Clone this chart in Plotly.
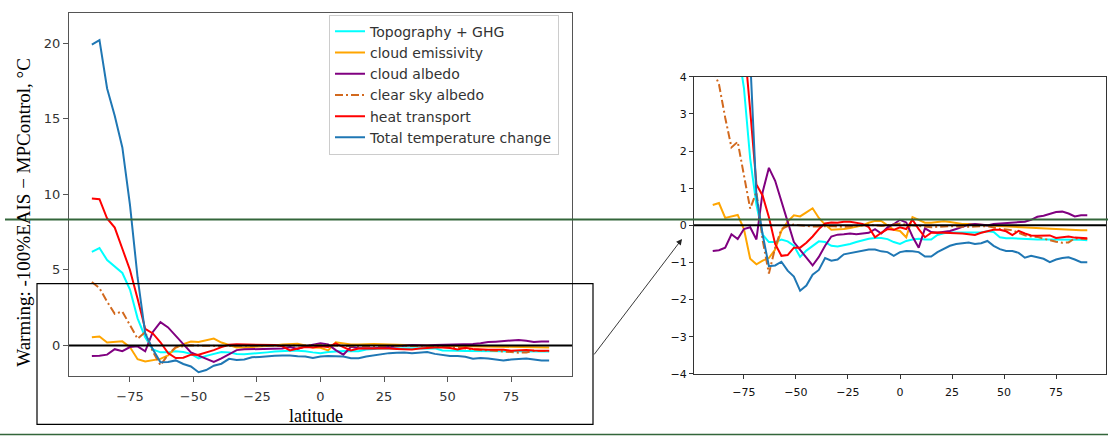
import plotly.graph_objects as go

# ---------------- data ----------------
lat = [-90, -87, -84, -81, -78, -75, -72, -69, -66, -63, -60, -57, -54, -51, -48, -45, -42, -39, -36, -33,
       -30, -27, -24, -21, -18, -15, -12, -9, -6, -3, 0, 3, 6, 9, 12, 15, 18, 21, 24, 27,
       30, 33, 36, 39, 42, 45, 48, 51, 54, 57, 60, 63, 66, 69, 72, 75, 78, 81, 84, 87, 90]

topo_ghg = [6.2, 6.45, 5.65, 5.2, 4.8, 3.7, 1.8, 0.55, -0.25, -0.45, -0.45, -0.38, -0.43, -0.55, -0.85, -0.68, -0.55, -0.43, -0.45, -0.55,
            -0.57, -0.54, -0.5, -0.45, -0.4, -0.36, -0.34, -0.34, -0.37, -0.45, -0.5, -0.42, -0.38, -0.36, -0.38, -0.38, -0.26, -0.21, -0.19, -0.19,
            -0.19, -0.18, -0.19, -0.19, -0.16, -0.18, -0.32, -0.35, -0.35, -0.36, -0.37, -0.38, -0.38, -0.38, -0.38, -0.37, -0.37, -0.37, -0.38, -0.39, -0.4]

cloud_emis = [0.55, 0.6, 0.2, 0.25, 0.28, -0.1, -0.9, -1.05, -0.95, -0.88, -0.65, -0.15, 0.1, 0.27, 0.24, 0.35, 0.46, 0.2, 0.02, -0.12,
              -0.12, -0.1, -0.07, -0.04, 0.0, 0.07, 0.12, 0.12, 0.0, -0.12, -0.15, -0.32, 0.22, 0.15, 0.07, 0.07, 0.1, 0.11, 0.09, 0.06,
              0.04, 0.04, 0.02, 0.01, 0.0, -0.01, -0.02, -0.03, -0.04, -0.05, -0.06, -0.07, -0.08, -0.08, -0.09, -0.09, -0.1, -0.11, -0.12, -0.13, -0.13]

cloud_alb = [-0.69, -0.67, -0.6, -0.24, -0.37, -0.1, -0.05, -0.38, 0.9, 1.55, 1.2, 0.62, 0.1, -0.45, -0.65, -0.85, -1.08, -0.85, -0.55, -0.3,
             -0.25, -0.24, -0.22, -0.24, -0.22, -0.2, -0.1, -0.22, -0.05, 0.03, 0.15, 0.08, -0.3, -0.6, -0.08, -0.18, -0.2, -0.18, -0.15, -0.1,
             -0.05, 0.02, 0.04, 0.02, 0.0, 0.04, 0.05, 0.05, 0.06, 0.08, 0.1, 0.15, 0.23, 0.26, 0.3, 0.36, 0.37, 0.32, 0.24, 0.27, 0.27]

clear_alb = [4.2, 3.8, 2.9, 2.1, 2.25, 1.3, 0.45, 0.9, -0.4, -1.3, -0.6, -0.1, -0.02, 0.02, 0.0, -0.02, -0.03, -0.03, -0.02, -0.02,
             -0.03, -0.04, -0.03, -0.02, 0.0, 0.02, 0.0, -0.02, 0.0, 0.03, 0.05, 0.02, 0.0, -0.02, -0.05, -0.05, -0.04, -0.03, -0.02, -0.03,
             -0.04, -0.04, -0.03, -0.02, -0.02, -0.06, -0.1, -0.11, -0.13, -0.2, -0.27, -0.3, -0.31, -0.36, -0.41, -0.44, -0.47, -0.46, -0.35, -0.36, -0.37]

heat_tr = [9.72, 9.68, 8.4, 7.8, 6.4, 5.0, 3.1, 1.1, 0.8, 0.22, -0.5, -0.82, -0.8, -0.6, -0.6, -0.47, -0.3, -0.1, 0.05, 0.08,
           0.07, 0.1, 0.1, 0.08, 0.04, -0.05, -0.32, -0.2, -0.1, -0.12, -0.05, -0.1, 0.15, -0.1, -0.32, -0.2, -0.19, -0.2, -0.2, -0.2,
           -0.22, -0.24, -0.26, -0.2, -0.15, -0.12, -0.12, -0.16, -0.26, -0.15, -0.22, -0.27, -0.28, -0.27, -0.27, -0.34, -0.31, -0.3, -0.33, -0.34, -0.35]

total = [19.9, 20.2, 17.0, 15.2, 13.1, 9.3, 4.5, 0.8, -0.25, -1.1, -1.08, -0.98, -1.22, -1.38, -1.76, -1.62, -1.33, -1.2, -0.88, -0.95,
         -0.92, -0.78, -0.75, -0.7, -0.68, -0.65, -0.65, -0.7, -0.72, -0.82, -0.72, -0.69, -0.7, -0.72, -0.84, -0.84, -0.72, -0.63, -0.55, -0.5,
         -0.48, -0.46, -0.5, -0.48, -0.42, -0.55, -0.64, -0.69, -0.69, -0.74, -0.87, -0.82, -0.86, -0.9, -0.99, -0.92, -0.88, -0.86, -0.92, -0.99, -0.99]

series_names = ["Topography + GHG", "cloud emissivity", "cloud albedo", "clear sky albedo",
                "heat transport", "Total temperature change"]
series_vals = [topo_ghg, cloud_emis, cloud_alb, clear_alb, heat_tr, total]
series_colors = ["#00ffff", "#ffa500", "#800080", "#d2691e", "#ff0000", "#1f77b4"]
series_dash = ["solid", "solid", "solid", "8px,3px,2px,3px", "solid", "solid"]

x_ticks = [-75, -50, -25, 0, 25, 50, 75]
y_ticks_left = [0, 5, 10, 15, 20]
y_ticks_right = [-4, -3, -2, -1, 0, 1, 2, 3, 4]

W, H = 1108, 443

def px(x):
    return x / W

def py(y):
    return (H - y) / H

fig = go.Figure()

for nm, vals, col, dsh in zip(series_names, series_vals, series_colors, series_dash):
    fig.add_trace(go.Scatter(x=lat, y=vals, mode="lines", name=nm,
                             line=dict(color=col, width=2, dash=dsh),
                             xaxis="x", yaxis="y", showlegend=True))
for nm, vals, col, dsh in zip(series_names, series_vals, series_colors, series_dash):
    fig.add_trace(go.Scatter(x=lat, y=vals, mode="lines", name=nm,
                             line=dict(color=col, width=2, dash=dsh),
                             xaxis="x2", yaxis="y2", showlegend=False))

tickfont_l = dict(family="DejaVu Sans", size=13, color="#333333")
tickfont_r = dict(family="DejaVu Sans", size=11, color="#111111")

fig.update_layout(
    width=W, height=H,
    margin=dict(l=0, r=0, t=0, b=0),
    paper_bgcolor="white", plot_bgcolor="white",
    showlegend=True,
    legend=dict(x=px(329), y=py(9), xanchor="left", yanchor="top",
                bgcolor="white", bordercolor="#cccccc", borderwidth=1,
                font=dict(family="DejaVu Sans", size=14, color="#333333"),
                tracegroupgap=0),
    xaxis=dict(domain=[px(69), px(572)], range=[-99, 99], tickvals=x_ticks,
               showgrid=False, zeroline=False, showline=True, mirror=True,
               linecolor="#555555", linewidth=1.3, ticks="outside", ticklen=5,
               tickcolor="#555555", tickfont=tickfont_l, anchor="y",
               ticklabelstandoff=3),
    yaxis=dict(domain=[py(381), py(7)], range=[-2, 22], tickvals=y_ticks_left,
               showgrid=False, zeroline=False, showline=True, mirror=True,
               linecolor="#555555", linewidth=1.3, ticks="outside", ticklen=5,
               tickcolor="#555555", tickfont=tickfont_l, anchor="x"),
    xaxis2=dict(domain=[px(694), px(1106)], range=[-99, 99], tickvals=x_ticks,
                showgrid=False, zeroline=False, showline=True, mirror=True,
                linecolor="#333333", linewidth=1.2, ticks="outside", ticklen=4,
                tickcolor="#333333", tickfont=tickfont_r, anchor="y2",
                ticklabelstandoff=4),
    yaxis2=dict(domain=[py(379), py(73)], range=[-4, 4], tickvals=y_ticks_right,
                showgrid=False, zeroline=False, showline=True, mirror=True,
                linecolor="#333333", linewidth=1.2, ticks="outside", ticklen=4,
                tickcolor="#333333", tickfont=tickfont_r, anchor="x2"),
)

shapes = [
    # zero reference lines
    dict(type="line", xref="x domain", yref="y", x0=0, x1=1, y0=0, y1=0,
         line=dict(color="black", width=2), layer="above"),
    dict(type="line", xref="x2 domain", yref="y2", x0=0, x1=1, y0=0, y1=0,
         line=dict(color="black", width=2), layer="above"),
    # zoom rectangle on the left panel
    dict(type="rect", xref="paper", yref="paper", x0=px(37), x1=px(593), y0=py(431), y1=py(286),
         line=dict(color="black", width=1.2), fillcolor="rgba(0,0,0,0)", layer="above"),
    # green separator lines
    dict(type="line", xref="paper", yref="paper", x0=px(5), x1=1, y0=py(220), y1=py(220),
         line=dict(color="#33663a", width=2), layer="above"),
    dict(type="line", xref="paper", yref="paper", x0=px(0), x1=1, y0=py(441.5), y1=py(441.5),
         line=dict(color="#33663a", width=1.5), layer="above"),
]
fig.update_layout(shapes=shapes)

annotations = [
    dict(text="Warming: -100%EAIS \u2212 MPControl, \u00b0C", textangle=-90,
         xref="paper", yref="paper", x=px(24), y=py(213), xanchor="center", yanchor="middle",
         showarrow=False, font=dict(family="Liberation Serif", size=19, color="black")),
    dict(text="latitude", xref="paper", yref="paper", x=px(316), y=py(422),
         xanchor="center", yanchor="middle", showarrow=False,
         font=dict(family="Liberation Serif", size=18, color="black")),
    dict(text="", xref="paper", yref="paper", x=px(682), y=py(240),
         axref="pixel", ayref="pixel", ax=593 - 682, ay=357 - 240,
         showarrow=True, arrowhead=2, arrowsize=1.3, arrowwidth=0.9, arrowcolor="#222222"),
]
fig.update_layout(annotations=annotations)

fig.write_html("out.html")
